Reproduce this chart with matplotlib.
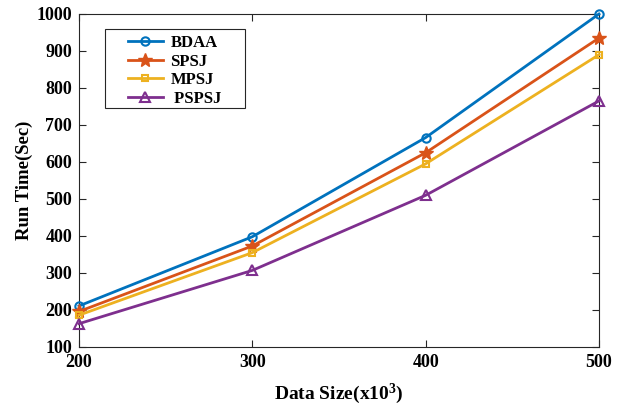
import matplotlib
matplotlib.use("Agg")
import matplotlib.pyplot as plt
from matplotlib.patches import Rectangle

x = [200, 300, 400, 500]
bdaa = [211, 398, 666, 1000]
spsj = [196, 373, 625, 935]
mpsj = [186, 355, 595, 890]
pspsj = [163, 307, 510, 765]
labels = ["BDAA", "SPSJ", "MPSJ", " PSPSJ"]

plt.rcParams['font.family'] = ['Liberation Serif', 'DejaVu Serif']
plt.rcParams['font.weight'] = 'bold'
plt.rcParams['mathtext.fontset'] = 'custom'
plt.rcParams['mathtext.rm'] = 'Liberation Serif:bold'
plt.rcParams['mathtext.bf'] = 'Liberation Serif:bold'
plt.rcParams['mathtext.default'] = 'bf'

fig = plt.figure(figsize=(6.27, 4.09), dpi=100)
ax = fig.add_axes([0.126, 0.1516, 0.8293, 0.8142])

ax.plot(x, bdaa, '-o', color='#0072BD', lw=2, ms=6, mfc='none', mew=1.5, label=labels[0], clip_on=False, zorder=3)
ax.plot(x, spsj, '-*', color='#D95319', lw=2, ms=10, label=labels[1], clip_on=False, zorder=3)
ax.plot(x, mpsj, '-s', color='#EDB120', lw=2, ms=5, mfc='none', mew=1.5, label=labels[2], clip_on=False, zorder=3)
ax.plot(x, pspsj, '-^', color='#7E2F8E', lw=2, ms=7, mfc='none', mew=1.5, label=labels[3], clip_on=False, zorder=3)

ax.set_xlim(200, 500)
ax.set_ylim(100, 1000)
ax.set_xticks([200, 300, 400, 500])
ax.set_yticks(range(100, 1001, 100))
ax.tick_params(direction='in', top=True, right=True, labelsize=13, colors='#262626',
               length=5, width=0.8, pad=5)
for lab in ax.get_xticklabels() + ax.get_yticklabels():
    lab.set_fontweight('bold')
    lab.set_color('black')
for s in ax.spines.values():
    s.set_color('#262626')
    s.set_linewidth(0.8)

ax.set_xlabel(r'Data Size(x10$^{3}$)', fontsize=14, fontweight='bold', labelpad=8)
ax.set_ylabel('Run Time(Sec)', fontsize=13.5, fontweight='bold', labelpad=2.5)

# legend frame drawn separately to match the wide MATLAB-style box
ax.add_patch(Rectangle((0.05, 0.718), 0.269, 0.237, transform=ax.transAxes,
                       facecolor='white', edgecolor='#262626', lw=0.8, zorder=4))
leg = ax.legend(loc='upper left', bbox_to_anchor=(0.094, 0.936), borderaxespad=0,
                frameon=False, handlelength=2.1, borderpad=0,
                labelspacing=0.15, handletextpad=0.45,
                prop={'weight': 'bold', 'size': 12})
leg.set_zorder(5)

fig.savefig('out.png', dpi=100)
